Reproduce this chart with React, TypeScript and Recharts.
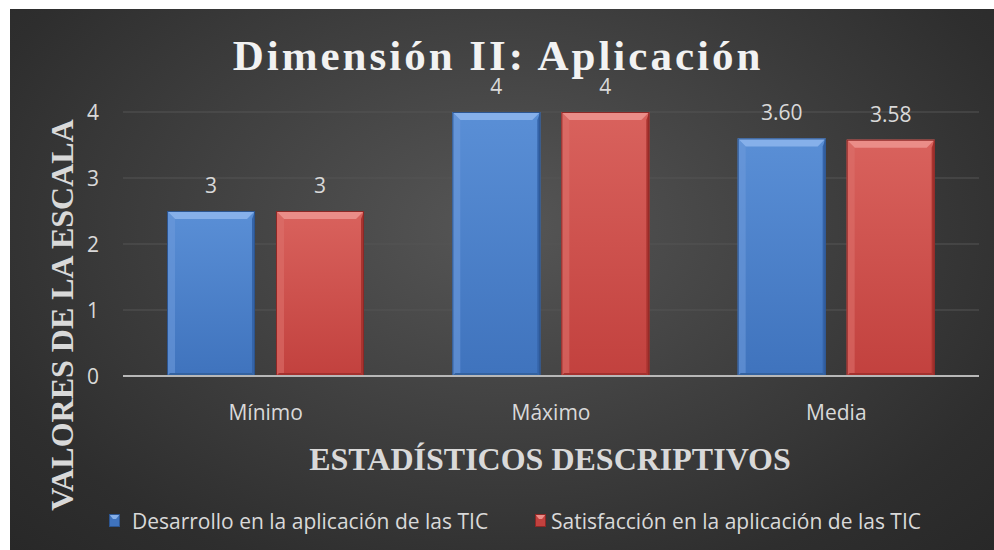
import React from 'react';
import { BarChart, Bar, XAxis, YAxis, CartesianGrid, Legend, LabelList, Customized } from 'recharts';

const categories = ['Mínimo', 'Máximo', 'Media'];
const desarrollo = [2.5, 4, 3.6];
const satisfaccion = [2.5, 4, 3.58];
const desarrolloLabels = ['3', '4', '3.60'];
const satisfaccionLabels = ['3', '4', '3.58'];
const yTicks = [0, 1, 2, 3, 4];
const seriesNames = ['Desarrollo en la aplicación de las TIC', 'Satisfacción en la aplicación de las TIC'];
const chartTitle = 'Dimensión II: Aplicación';
const xTitle = 'ESTADÍSTICOS DESCRIPTIVOS';
const yTitle = 'VALORES DE LA ESCALA';

const data = categories.map((c, i) => ({
  cat: c,
  d: desarrollo[i],
  s: satisfaccion[i],
  dl: desarrolloLabels[i],
  sl: satisfaccionLabels[i],
}));

const W = 984;
const H = 541;
const SANS = "'Open Sans', 'Noto Sans', sans-serif";
const SERIF = "'Liberation Serif', 'Times New Roman', serif";
const TXT = '#d9d9d9';

const BLUE = { key: 'blue', top: '#5a8fd6', bottom: '#3f73bd', bevelTop: '#86b0ea', bevelLeft: '#6c9ada', bevelRight: '#3564a8', bevelBottom: '#34629f', edge: '#2c5590' };
const RED = { key: 'red', top: '#d9625d', bottom: '#c2413e', bevelTop: '#eb8d88', bevelLeft: '#dc6f6a', bevelRight: '#a8332f', bevelBottom: '#a3312e', edge: '#8c2826' };

const makeShape = (pal: any) => (props: any) => {
  const { x, y, width: w, height: h } = props;
  if (!h || h <= 0) return null;
  const b = 8;
  const id = `grad-${pal.key}`;
  return (
    <g>
      <defs>
        <linearGradient id={id} x1="0" y1="0" x2="0" y2="1">
          <stop offset="0" stopColor={pal.top} />
          <stop offset="1" stopColor={pal.bottom} />
        </linearGradient>
      </defs>
      <rect x={x} y={y} width={w} height={h} fill={`url(#${id})`} />
      <polygon points={`${x},${y} ${x + w},${y} ${x + w - b},${y + b} ${x + b},${y + b}`} fill={pal.bevelTop} />
      <polygon points={`${x},${y} ${x + b},${y + b} ${x + b},${y + h - 3} ${x},${y + h}`} fill={pal.bevelLeft} opacity={0.6} />
      <polygon points={`${x + w},${y} ${x + w},${y + h} ${x + w - 3},${y + h - 3} ${x + w - 3},${y + b}`} fill={pal.bevelRight} />
      <polygon points={`${x},${y + h} ${x + w},${y + h} ${x + w - 3},${y + h - 3} ${x + 3},${y + h - 3}`} fill={pal.bevelBottom} />
      <rect x={x + 0.5} y={y + 0.5} width={w - 1} height={h - 1} fill="none" stroke={pal.edge} strokeWidth={1} />
    </g>
  );
};

const Marker = ({ pal }: any) => (
  <svg width={11} height={13} style={{ display: 'block' }}>
    <rect x={0} y={0} width={11} height={13} fill={pal.bottom} />
    <polygon points="0,0 11,0 7,5 4,5" fill={pal.bevelTop} />
    <rect x={0.5} y={0.5} width={10} height={12} fill="none" stroke={pal.edge} />
  </svg>
);

const XTick = (props: any) => {
  const { x, y, payload } = props;
  return (
    <text x={x} y={y + 44} textAnchor="middle" fill={TXT} fontSize={21} fontFamily={SANS}>
      {payload.value}
    </text>
  );
};

const YTick = (props: any) => {
  const { x, y, payload } = props;
  return (
    <text x={x - 24} y={y} dy="0.36em" textAnchor="end" fill={TXT} fontSize={21} fontFamily={SANS}>
      {payload.value}
    </text>
  );
};

const Titles = () => (
  <g>
    <text x={488} y={61} textAnchor="middle" fill="#f2f2f2" fontSize={43} fontWeight="bold" fontFamily={SERIF} letterSpacing={3}>
      {chartTitle}
    </text>
    <text x={540} y={461} textAnchor="middle" fill={TXT} fontSize={32} fontWeight="bold" fontFamily={SERIF}>
      {xTitle}
    </text>
    <text x={0} y={0} transform="translate(63,306) rotate(-90)" textAnchor="middle" fill={TXT} fontSize={32} fontWeight="bold" fontFamily={SERIF}>
      {yTitle}
    </text>
  </g>
);

const LegendContent = () => (
  <div style={{ position: 'relative', width: W, height: 30, fontFamily: SANS, fontSize: 21, color: TXT }}>
    <div style={{ position: 'absolute', left: 99, top: 7 }}><Marker pal={BLUE} /></div>
    <div style={{ position: 'absolute', left: 122, top: 0, lineHeight: '28px', whiteSpace: 'nowrap' }}>{seriesNames[0]}</div>
    <div style={{ position: 'absolute', left: 525, top: 7 }}><Marker pal={RED} /></div>
    <div style={{ position: 'absolute', left: 541, top: 0, lineHeight: '28px', whiteSpace: 'nowrap' }}>{seriesNames[1]}</div>
  </div>
);

export default function App() {
  return (
    <div
      style={{
        position: 'absolute',
        left: 10,
        top: 9,
        width: W,
        height: H,
        background: 'radial-gradient(ellipse farthest-corner at 50% 40%, #565656 0%, #424242 40%, #2e2e2e 80%, #282828 100%)',
      }}
    >
      <BarChart
        width={W}
        height={H}
        data={data}
        margin={{ top: 103, right: 15, bottom: 134, left: 53 }}
        barSize={88}
        barGap={21}
      >
        <CartesianGrid vertical={false} stroke="#545454" strokeWidth={1} />
        <XAxis
          dataKey="cat"
          height={40}
          tickLine={false}
          tickSize={0}
          tickMargin={0}
          axisLine={{ stroke: '#b8b8b8', strokeWidth: 2 }}
          tick={<XTick />}
          interval={0}
        />
        <YAxis
          width={60}
          domain={[0, 4]}
          ticks={yTicks}
          interval={0}
          axisLine={false}
          tickLine={false}
          tickSize={0}
          tickMargin={0}
          tick={<YTick />}
        />
        <Bar dataKey="d" name={seriesNames[0]} fill={BLUE.top} shape={makeShape(BLUE)} isAnimationActive={false}>
          <LabelList dataKey="dl" position="top" offset={18} fill={TXT} fontSize={21} fontFamily={SANS} />
        </Bar>
        <Bar dataKey="s" name={seriesNames[1]} fill={RED.top} shape={makeShape(RED)} isAnimationActive={false}>
          <LabelList dataKey="sl" position="top" offset={18} fill={TXT} fontSize={21} fontFamily={SANS} />
        </Bar>
        <Legend
          layout="horizontal"
          verticalAlign="middle"
          align="center"
          wrapperStyle={{ top: 498, left: 0, width: W, height: 30 }}
          content={() => <LegendContent />}
        />
        <Customized component={Titles} />
      </BarChart>
    </div>
  );
}
